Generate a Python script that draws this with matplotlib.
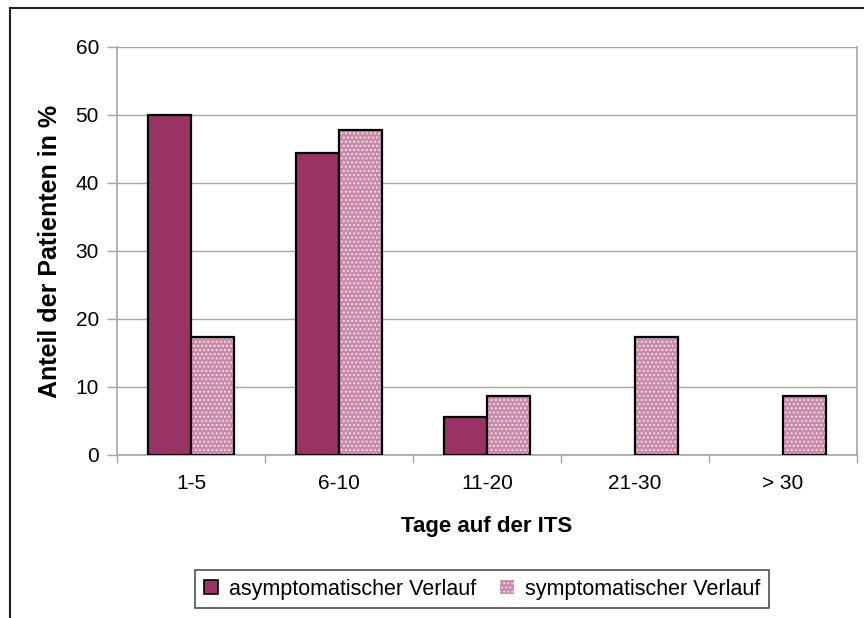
import matplotlib
matplotlib.use("Agg")
import matplotlib.pyplot as plt
from matplotlib.patches import Patch
from matplotlib.lines import Line2D
import numpy as np

plt.rcParams['font.family'] = ['Liberation Sans', 'DejaVu Sans']
plt.rcParams['hatch.linewidth'] = 1.0

categories = ["1-5", "6-10", "11-20", "21-30", "> 30"]
asymptomatic = [50.0, 44.4, 5.6, 0.0, 0.0]
symptomatic = [17.4, 47.8, 8.7, 17.4, 8.7]
series_names = ["asymptomatischer Verlauf", "symptomatischer Verlauf"]
y_ticks = [0, 10, 20, 30, 40, 50, 60]

dark = "#993366"
pink = "#c88aab"
dots = "#f2dbe7"
grid_gray = "#a6a6a6"

fig = plt.figure(figsize=(8.64, 6.18), dpi=100)
ax = fig.add_axes([117 / 864, 1 - 455 / 618, 740 / 864, 408 / 618])

x = np.arange(len(categories))
w = 0.288


def edges(values):
    # empty bars get no outline
    return ["black" if v > 0 else "none" for v in values]


ax.bar(x - w / 2, asymptomatic, width=w, color=dark,
       edgecolor=edges(asymptomatic), linewidth=1.6, zorder=3)
ax.bar(x + w / 2, symptomatic, width=w, color=pink, edgecolor=dots,
       hatch="....", linewidth=0, zorder=3)
ax.bar(x + w / 2, symptomatic, width=w, fill=False,
       edgecolor=edges(symptomatic), linewidth=1.6, zorder=4)

ax.set_xlim(-0.5, len(categories) - 0.5)
ax.set_ylim(0, 60)
ax.set_yticks(y_ticks)
ax.set_yticklabels([str(t) for t in y_ticks], fontsize=15)
ax.yaxis.grid(True, color=grid_gray, linewidth=1.0, zorder=0)
ax.set_axisbelow(True)

ax.set_xticks(x)
ax.set_xticklabels(categories, fontsize=15)
ax.tick_params(axis="x", which="major", length=0, pad=14)
ax.set_xticks(np.arange(len(categories) + 1) - 0.5, minor=True)
ax.tick_params(axis="x", which="minor", length=6, color=grid_gray, width=1)
ax.tick_params(axis="y", length=7, color=grid_gray, width=1, pad=6)

for side in ["left", "right", "bottom"]:
    ax.spines[side].set_color(grid_gray)
    ax.spines[side].set_linewidth(1.2)
ax.spines["top"].set_visible(False)

ax.set_xlabel("Tage auf der ITS", fontsize=16, fontweight="bold", labelpad=16)
ax.set_ylabel("Anteil der Patienten in %", fontsize=18, fontweight="bold",
              labelpad=10)

# outer chart frame (left and top edges visible)
fig.add_artist(Line2D([10 / 864, 10 / 864], [0, 1 - 8 / 618],
                      transform=fig.transFigure, color="#222222", linewidth=1.5))
fig.add_artist(Line2D([10 / 864, 1], [1 - 8 / 618, 1 - 8 / 618],
                      transform=fig.transFigure, color="#222222", linewidth=1.5))

handles = [
    Patch(facecolor=dark, edgecolor="black", linewidth=1.2),
    Patch(facecolor=pink, edgecolor=dots, hatch="....", linewidth=0),
]
leg = fig.legend(handles, series_names, loc="center",
                 bbox_to_anchor=(482 / 864, 1 - 589 / 618), ncol=2,
                 fontsize=15.5, frameon=True, fancybox=False, handlelength=0.65,
                 handleheight=0.65, handletextpad=0.5, columnspacing=1.1,
                 borderpad=0.4, borderaxespad=0)
leg.get_frame().set_edgecolor("#222222")
leg.get_frame().set_linewidth(1.2)

fig.savefig("out.png", dpi=100)
